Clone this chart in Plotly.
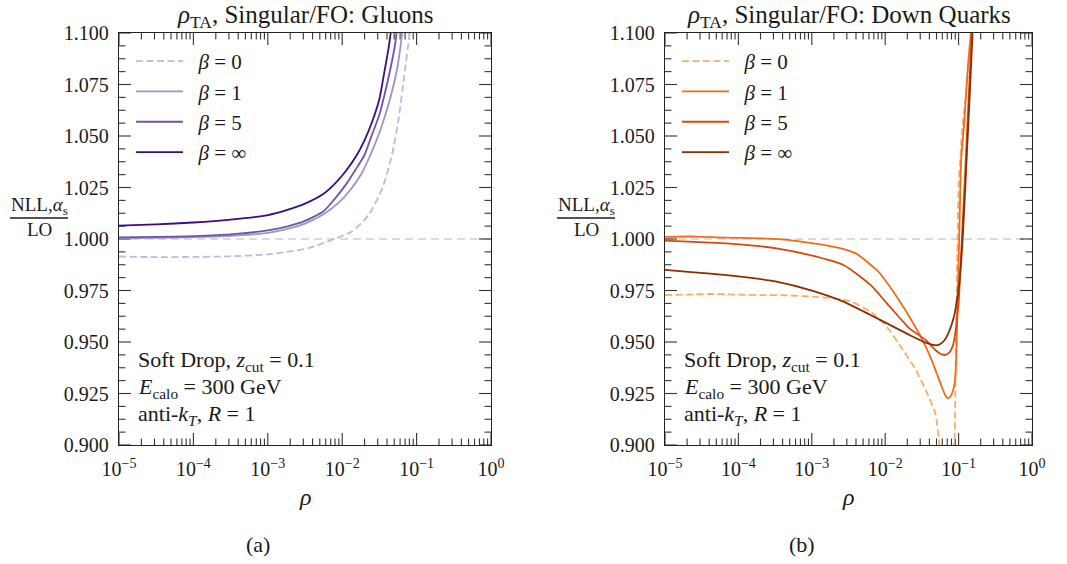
import plotly.graph_objects as go

# ---------------- data: ratio of NLL,alpha_s to LO vs rho ----------------
# Gluons
rho_g_b0 = [1e-5, 3.16e-5, 1e-4, 3.16e-4, 1e-3, 1.78e-3, 3.55e-3, 7.4e-3, 0.0135, 0.0229,
            0.0347, 0.0468, 0.0575, 0.0676, 0.0794, 0.0832]
ratio_g_b0 = [0.9915, 0.9912, 0.9913, 0.9916, 0.9925, 0.9937, 0.9956, 0.9997, 1.0037, 1.0118,
              1.0248, 1.0409, 1.0587, 1.0782, 1.0976, 1.1030]

rho_g_b1 = [1e-5, 3.16e-5, 1e-4, 3.16e-4, 1e-3, 1.78e-3, 3.16e-3, 5.62e-3, 8.9e-3, 0.0129,
            0.0178, 0.0240, 0.0309, 0.0380, 0.0468, 0.0550, 0.0603, 0.0653]
ratio_g_b1 = [1.0003, 1.0005, 1.0009, 1.0015, 1.0030, 1.0048, 1.0075, 1.0120, 1.0175, 1.0239,
              1.0312, 1.0409, 1.0506, 1.0603, 1.0717, 1.0830, 1.0927, 1.1024]

rho_g_b5 = [1e-5, 3.16e-5, 1e-4, 3.16e-4, 1e-3, 1.78e-3, 3.16e-3, 5.62e-3, 7.94e-3, 0.0112,
            0.0151, 0.0200, 0.0251, 0.0316, 0.0380, 0.0447, 0.0513, 0.0550]
ratio_g_b5 = [1.0008, 1.0010, 1.0014, 1.0022, 1.0042, 1.0060, 1.0088, 1.0135, 1.0195, 1.0264,
              1.0336, 1.0409, 1.0506, 1.0603, 1.0717, 1.0830, 1.0943, 1.1030]

rho_g_binf = [1e-5, 3.16e-5, 1e-4, 3.16e-4, 1e-3, 1.78e-3, 3.16e-3, 5.62e-3, 7.94e-3, 0.0112,
              0.0158, 0.0200, 0.0251, 0.0316, 0.0370, 0.0420, 0.0460]
ratio_g_binf = [1.0065, 1.0071, 1.0080, 1.0094, 1.0116, 1.0140, 1.0172, 1.0220, 1.0268, 1.0330,
                1.0409, 1.0480, 1.0567, 1.0680, 1.0814, 1.0927, 1.1030]

# Down quarks
rho_q_b0 = [1e-5, 2.0e-5, 4.0e-5, 1e-4, 2.0e-4, 5.0e-4, 1e-3, 2.0e-3, 3.5e-3, 6.3e-3,
            0.0105, 0.0175, 0.0262, 0.0355, 0.0482, 0.0550, 0.0708, 0.0871, 0.0904, 0.0931,
            0.0959, 0.1000, 0.1059, 0.1122, 0.1175, 0.1514]
ratio_q_b0 = [0.9728, 0.9730, 0.9733, 0.9730, 0.9728, 0.9726, 0.9720, 0.9712, 0.9695, 0.9647,
              0.9574, 0.9461, 0.9364, 0.9267, 0.9154, 0.9000, 0.8800, 0.9010, 0.9283, 0.9607,
              0.9931, 1.0254, 1.0400, 1.0537, 1.0600, 1.1000]

rho_q_b1 = [1e-5, 2.5e-5, 6.3e-5, 2.0e-4, 5.0e-4, 1e-3, 2.0e-3, 2.8e-3, 4.0e-3, 5.0e-3,
            6.3e-3, 7.9e-3, 0.0100, 0.0126, 0.0158, 0.0200, 0.0251, 0.0316, 0.0398, 0.0501,
            0.0589, 0.0661, 0.0701, 0.0759, 0.0813, 0.0861, 0.0902, 0.0933, 0.0982, 0.1033,
            0.1084, 0.1202, 0.1327, 0.1469]
ratio_q_b1 = [1.0010, 1.0012, 1.0007, 1.0003, 0.9995, 0.9980, 0.9962, 0.9950, 0.9930, 0.9905,
              0.9875, 0.9845, 0.9800, 0.9750, 0.9697, 0.9640, 0.9580, 0.9515, 0.9440, 0.9350,
              0.9283, 0.9240, 0.9228, 0.9232, 0.9250, 0.9280, 0.9330, 0.9450, 0.9768, 1.0092,
              1.0383, 1.0578, 1.0820, 1.1000]

rho_q_b5 = [1e-5, 2.5e-5, 6.9e-5, 1.6e-4, 3.3e-4, 9.5e-4, 2.7e-3, 6.3e-3, 0.0116, 0.0214,
            0.0355, 0.0482, 0.0562, 0.0646, 0.0741, 0.0832, 0.0891, 0.0955, 0.1000, 0.1084,
            0.1202, 0.1327, 0.1469, 0.1514]
ratio_q_b5 = [0.9992, 0.9986, 0.9979, 0.9968, 0.9955, 0.9922, 0.9874, 0.9777, 0.9671, 0.9566,
              0.9510, 0.9461, 0.9443, 0.9437, 0.9447, 0.9480, 0.9530, 0.9620, 0.9688, 0.9931,
              1.0254, 1.0578, 1.0902, 1.0999]

rho_q_binf = [1e-5, 2.5e-5, 6.9e-5, 1.6e-4, 3.3e-4, 9.5e-4, 2.7e-3, 6.3e-3, 0.0116, 0.0214,
              0.0355, 0.0447, 0.0501, 0.0562, 0.0646, 0.0724, 0.0813, 0.0885, 0.0955, 0.1033,
              0.1140, 0.1265, 0.1400, 0.1549]
ratio_q_binf = [0.9850, 0.9838, 0.9825, 0.9810, 0.9793, 0.9752, 0.9696, 0.9631, 0.9583, 0.9534,
                0.9497, 0.9486, 0.9484, 0.9490, 0.9510, 0.9542, 0.9590, 0.9639, 0.9710, 0.9801,
                1.0011, 1.0335, 1.0659, 1.0999]

beta_labels = ["\u2002<i>β</i> = 0", "\u2002<i>β</i> = 1", "\u2002<i>β</i> = 5", "\u2002<i>β</i> = ∞"]
purples = ["#bdb9e0", "#9a93cc", "#6e55aa", "#3f0a82"]
oranges = ["#fdab69", "#f26c17", "#d44b0a", "#8a2e06"]

x_ticks = [1e-5, 1e-4, 1e-3, 1e-2, 1e-1, 1]
x_ticktext = ["10<sup>−5</sup>", "10<sup>−4</sup>", "10<sup>−3</sup>",
              "10<sup>−2</sup>", "10<sup>−1</sup>", "10<sup>0</sup>"]

FONT = "Liberation Serif, DejaVu Serif, serif"
W, H = 1067, 564
TXT = "#1a1a1a"
X_RANGE = (-5, 0)          # log10 of rho
Y_RANGE = (0.9, 1.1)
Y_MAJOR, Y_MINOR = 0.025, 0.00625
MAJ_LEN, MIN_LEN = 12, 6.5  # tick lengths in px

# plot-area placement (pixels)
left_px = (119, 491)
right_px = (665, 1032)
top_px, bot_px = 33, 445
ydom = [1 - bot_px / H, 1 - top_px / H]

fig = go.Figure()


def add_ticks(xa, ya, width_px):
    """Inward tick marks on all four sides of one panel (drawn as a line trace)."""
    dec_per_px = (X_RANGE[1] - X_RANGE[0]) / width_px
    y_per_px = (Y_RANGE[1] - Y_RANGE[0]) / (bot_px - top_px)
    xs, ys = [], []
    for e in range(X_RANGE[0], X_RANGE[1] + 1):
        for m in range(1, 10):
            v = m * 10.0 ** e
            if v > 10.0 ** X_RANGE[1] * 1.0001:
                break
            ln = (MAJ_LEN if m == 1 else MIN_LEN) * y_per_px
            xs += [v, v, None, v, v, None]
            ys += [Y_RANGE[0], Y_RANGE[0] + ln, None, Y_RANGE[1], Y_RANGE[1] - ln, None]
    n = int(round((Y_RANGE[1] - Y_RANGE[0]) / Y_MINOR))
    xl, xr = 10.0 ** X_RANGE[0], 10.0 ** X_RANGE[1]
    for k in range(n + 1):
        yv = Y_RANGE[0] + k * Y_MINOR
        ln = (MAJ_LEN if k % 4 == 0 else MIN_LEN) * dec_per_px
        xs += [xl, xl * 10 ** ln, None, xr, xr / 10 ** ln, None]
        ys += [yv, yv, None, yv, yv, None]
    fig.add_trace(go.Scatter(x=xs, y=ys, mode="lines", xaxis=xa, yaxis=ya,
                             line=dict(color="#333333", width=1.1),
                             showlegend=False, hoverinfo="skip"))


add_ticks("x", "y", left_px[1] - left_px[0])
add_ticks("x2", "y2", right_px[1] - right_px[0])

panels = [
    ("x", "y", "legend", purples,
     [(rho_g_b0, ratio_g_b0), (rho_g_b1, ratio_g_b1), (rho_g_b5, ratio_g_b5), (rho_g_binf, ratio_g_binf)]),
    ("x2", "y2", "legend2", oranges,
     [(rho_q_b0, ratio_q_b0), (rho_q_b1, ratio_q_b1), (rho_q_b5, ratio_q_b5), (rho_q_binf, ratio_q_binf)]),
]

for xa, ya, leg, cols, series in panels:
    for i, (xs, ys) in enumerate(series):
        fig.add_trace(go.Scatter(
            x=xs, y=ys, mode="lines", name=beta_labels[i],
            xaxis=xa, yaxis=ya, legend=leg, legendgroup=f"{leg}{i}",
            line=dict(color=cols[i], width=1.8, dash="7px,3.5px" if i == 0 else "solid",
                      shape="spline", smoothing=0.6),
            hoverinfo="skip",
        ))


def xaxis_cfg(dom):
    return dict(
        type="log", range=list(X_RANGE), domain=[dom[0] / W, dom[1] / W], automargin=False,
        showline=True, linecolor="#222", linewidth=1.3, mirror=True,
        ticks="", tickvals=x_ticks, ticktext=x_ticktext, ticklabelstandoff=6,
        tickfont=dict(family=FONT, size=20, color=TXT),
        showgrid=False, zeroline=False,
    )


def yaxis_cfg():
    return dict(
        range=list(Y_RANGE), domain=ydom, automargin=False,
        showline=True, linecolor="#222", linewidth=1.3, mirror=True,
        ticks="", tick0=Y_RANGE[0], dtick=Y_MAJOR, tickformat=".3f", ticklabelstandoff=5,
        tickfont=dict(family=FONT, size=20, color=TXT),
        showgrid=False, zeroline=False,
    )


fig.update_layout(
    width=W, height=H, margin=dict(l=0, r=0, t=0, b=0, autoexpand=False),
    paper_bgcolor="white", plot_bgcolor="white",
    font=dict(family=FONT, color=TXT),
    xaxis=dict(anchor="y", **xaxis_cfg(left_px)),
    yaxis=dict(anchor="x", **yaxis_cfg()),
    xaxis2=dict(anchor="y2", **xaxis_cfg(right_px)),
    yaxis2=dict(anchor="x2", **yaxis_cfg()),
    showlegend=True,
)

legend_common = dict(
    xanchor="left", yanchor="top", bgcolor="rgba(0,0,0,0)", borderwidth=0,
    font=dict(family=FONT, size=21, color=TXT), itemwidth=47, tracegroupgap=0,
    traceorder="normal",
)
fig.update_layout(
    legend=dict(x=131 / W, y=1 - 41 / H, **legend_common),
    legend2=dict(x=677 / W, y=1 - 41 / H, **legend_common),
)

# horizontal reference at unity
for xa, ya in (("x", "y"), ("x2", "y2")):
    fig.add_shape(type="line", xref=f"{xa} domain", x0=0, x1=1, yref=ya, y0=1.0, y1=1.0,
                  line=dict(color="#cfcfcf", width=1.5, dash="8px,5px"), layer="below")

annotations = []


def text(xp, yp, s, size=22, xanchor="center", yanchor="middle"):
    annotations.append(dict(
        x=xp / W, y=1 - yp / H, xref="paper", yref="paper", text=s, showarrow=False,
        xanchor=xanchor, yanchor=yanchor, font=dict(family=FONT, size=size, color=TXT),
    ))


titles = ["<i>ρ</i><sub>TA</sub>, Singular/FO: Gluons",
          "<i>ρ</i><sub>TA</sub>, Singular/FO: Down Quarks"]
captions = ["(a)", "(b)"]
cap_x = [258, 802]
frac_x = [39, 586]

for k, (x0, x1) in enumerate((left_px, right_px)):
    cx = (x0 + x1) / 2
    text(cx, 16, titles[k], size=25)
    text(cx, 497, "<i>ρ</i>", size=24)
    text(cap_x[k], 544, captions[k], size=22)
    text(x0 + 17, 361, "Soft Drop, <i>z</i><sub>cut</sub> = 0.1", xanchor="left")
    text(x0 + 17, 388, "<i>E</i><sub>calo</sub> = 300 GeV", xanchor="left")
    text(x0 + 17, 415, "anti-<i>k</i><sub><i>T</i></sub>, <i>R</i> = 1", xanchor="left")
    # stacked fraction label for the y axis
    text(frac_x[k], 206, "NLL,<i>α</i><sub>s</sub>", size=19)
    text(frac_x[k], 229, "LO", size=19)
    fig.add_shape(type="line", xref="paper", yref="paper",
                  x0=(frac_x[k] - 29) / W, x1=(frac_x[k] + 29) / W,
                  y0=1 - 218 / H, y1=1 - 218 / H, line=dict(color=TXT, width=1.4))

fig.update_layout(annotations=annotations)

fig.write_html("out.html")
